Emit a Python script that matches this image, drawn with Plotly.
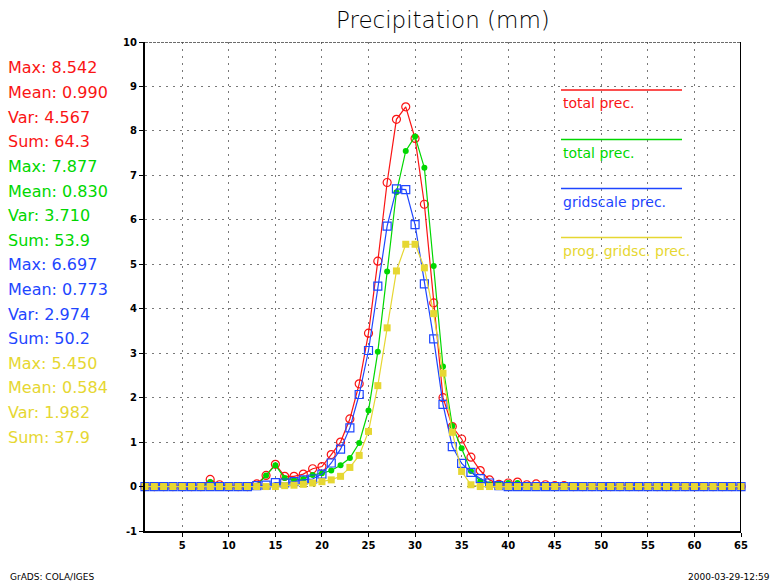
import plotly.graph_objects as go

# ---------------- data ----------------
steps = list(range(1, 66))

total_prec_a = [0, 0, 0, 0, 0, 0, 0,
                0.16, 0.04, 0, 0, 0, 0.06, 0.25, 0.50, 0.23, 0.23, 0.28, 0.40, 0.45,
                0.72, 1.00, 1.52, 2.31, 3.45, 5.07, 6.84, 8.26, 8.542, 7.83,
                6.35, 4.13, 2.0, 1.35, 1.07, 0.66, 0.36, 0.15, 0.05, 0.08,
                0.10, 0.04, 0.06, 0.04, 0.02, 0.02,
                0, 0, 0, 0, 0, 0, 0, 0, 0, 0, 0, 0, 0, 0, 0, 0, 0, 0, 0]

total_prec_b = [0, 0, 0, 0, 0, 0, 0,
                0.10, 0.02, 0, 0, 0, 0.02, 0.25, 0.48, 0.19, 0.15, 0.17, 0.26, 0.30,
                0.36, 0.48, 0.64, 0.98, 1.71, 3.03, 4.84, 6.62, 7.55, 7.877,
                7.17, 4.96, 2.7, 1.36, 0.86, 0.35, 0.12, 0.05, 0.06, 0.08,
                0.08, 0.03,
                0, 0, 0, 0, 0, 0, 0, 0, 0, 0, 0, 0, 0, 0, 0, 0, 0, 0, 0, 0, 0, 0, 0]

gridscale_prec = [0, 0, 0, 0, 0, 0, 0, 0, 0, 0, 0, 0,
                  0.02, 0.03, 0.09, 0.08, 0.11, 0.15, 0.17, 0.28,
                  0.53, 0.84, 1.32, 2.07, 3.06, 4.51, 5.86, 6.697, 6.68, 5.89,
                  4.56, 3.32, 1.85, 0.90, 0.52, 0.32, 0.18, 0.08, 0.02,
                  0, 0, 0, 0, 0, 0, 0, 0, 0, 0, 0, 0, 0, 0, 0, 0, 0, 0, 0, 0, 0, 0, 0, 0, 0, 0]

prog_gridsc_prec = [0, 0, 0, 0, 0, 0, 0, 0, 0, 0, 0, 0, 0, 0, 0,
                    0.02, 0.03, 0.05, 0.08, 0.11,
                    0.15, 0.23, 0.43, 0.70, 1.24, 2.27, 3.57, 4.85, 5.45, 5.45,
                    4.92, 3.89, 2.55, 1.22, 0.34, 0.04,
                    0, 0, 0, 0, 0, 0, 0, 0, 0, 0, 0, 0, 0, 0, 0, 0, 0, 0, 0, 0, 0, 0, 0, 0, 0, 0, 0, 0, 0]

series_names = ["total prec.", "total prec.", "gridscale prec.", "prog. gridsc. prec."]
stats_max = ["8.542", "7.877", "6.697", "5.450"]
stats_mean = ["0.990", "0.830", "0.773", "0.584"]
stats_var = ["4.567", "3.710", "2.974", "1.982"]
stats_sum = ["64.3", "53.9", "50.2", "37.9"]

x_ticks = [5, 10, 15, 20, 25, 30, 35, 40, 45, 50, 55, 60, 65]
y_ticks = [-1, 0, 1, 2, 3, 4, 5, 6, 7, 8, 9, 10]

# ---------------- style ----------------
RED = "rgb(250,20,20)"
GREEN = "rgb(0,215,0)"
BLUE = "rgb(30,70,255)"
YELLOW = "rgb(230,215,50)"
colors = [RED, GREEN, BLUE, YELLOW]

W, H = 775, 586
L, R, T, B = 145, 741, 42, 531  # plot area in pixels


def px(x):
    return (x - L) / (R - L)


def py(y):
    return (B - y) / (B - T)


fig = go.Figure()
series = [total_prec_a, total_prec_b, gridscale_prec, prog_gridsc_prec]
markers = [
    dict(symbol="circle-open", size=8, color=RED, line=dict(width=1.2, color=RED)),
    dict(symbol="circle", size=6, color=GREEN),
    dict(symbol="square-open", size=8, color=BLUE, line=dict(width=1.2, color=BLUE)),
    dict(symbol="square", size=7, color=YELLOW),
]
for vals, col, mk, nm in zip(series, colors, markers, series_names):
    fig.add_trace(go.Scatter(x=steps, y=vals, mode="lines+markers", name=nm,
                             line=dict(color=col, width=1.2), marker=mk,
                             showlegend=False, cliponaxis=False, hoverinfo="skip"))

ann = []
# title
ann.append(dict(x=px(443), y=py(20), xref="paper", yref="paper", text="Precipitation (mm)",
                showarrow=False, font=dict(family="DejaVu Sans", size=23, color="black", weight=300),
                xanchor="center", yanchor="middle"))
# stats text
labels = []
for i in range(4):
    labels += [("Max: " + stats_max[i], colors[i]), ("Mean: " + stats_mean[i], colors[i]),
               ("Var: " + stats_var[i], colors[i]), ("Sum: " + stats_sum[i], colors[i])]
for k, (txt, col) in enumerate(labels):
    ann.append(dict(x=px(6), y=py(68 + k * 24.6), xref="paper", yref="paper", text=txt,
                    showarrow=False, font=dict(family="DejaVu Sans", size=16, color=col),
                    xanchor="left", yanchor="middle"))
# legend lines + text
shapes = []
leg_y = [90, 139.5, 188.5, 237.5]
for i in range(4):
    shapes.append(dict(type="line", xref="paper", yref="paper", x0=px(561), x1=px(682),
                       y0=py(leg_y[i]), y1=py(leg_y[i]), line=dict(color=colors[i], width=1.5)))
    ann.append(dict(x=px(561), y=py(leg_y[i] + 13), xref="paper", yref="paper", text=series_names[i],
                    showarrow=False, font=dict(family="DejaVu Sans", size=14, color=colors[i]),
                    xanchor="left", yanchor="middle"))
# top border dashed
shapes.append(dict(type="line", xref="x", yref="y", x0=1, x1=65, y0=10, y1=10,
                   line=dict(color="rgb(60,60,60)", width=1.5, dash="3px,1px")))
# footer
ann.append(dict(x=px(8), y=py(577), xref="paper", yref="paper", text="GrADS: COLA/IGES",
                showarrow=False, font=dict(family="DejaVu Sans", size=9, color="black"),
                xanchor="left", yanchor="middle"))
ann.append(dict(x=px(772), y=py(577), xref="paper", yref="paper", text="2000-03-29-12:59",
                showarrow=False, font=dict(family="DejaVu Sans", size=9, color="black"),
                xanchor="right", yanchor="middle"))

grid_style = dict(showgrid=True, gridcolor="rgb(120,120,120)", griddash="2px,5px", gridwidth=1,
                  showline=True, linecolor="black", linewidth=2, mirror=False,
                  ticks="outside", ticklen=4, tickcolor="black", zeroline=False,
                  tickfont=dict(family="DejaVu Sans", size=10, color="black", weight="bold"))

fig.update_layout(
    width=W, height=H,
    margin=dict(l=L, r=W - R, t=T, b=H - B),
    paper_bgcolor="white", plot_bgcolor="white",
    annotations=ann, shapes=shapes, hovermode=False,
    xaxis=dict(range=[1, 65], tickvals=x_ticks, ticktext=[str(v) for v in x_ticks], **grid_style),
    yaxis=dict(range=[-1, 10], tickvals=y_ticks, ticktext=[str(v) for v in y_ticks], **grid_style),
)
# right border
fig.add_shape(type="line", xref="x", yref="y", x0=65, x1=65, y0=-1, y1=10,
              line=dict(color="black", width=2))

fig.write_html("out.html", config={"displayModeBar": False},
               post_script="document.body.style.margin='0';document.body.style.padding='0';"
                           "document.documentElement.style.overflow='hidden';")
